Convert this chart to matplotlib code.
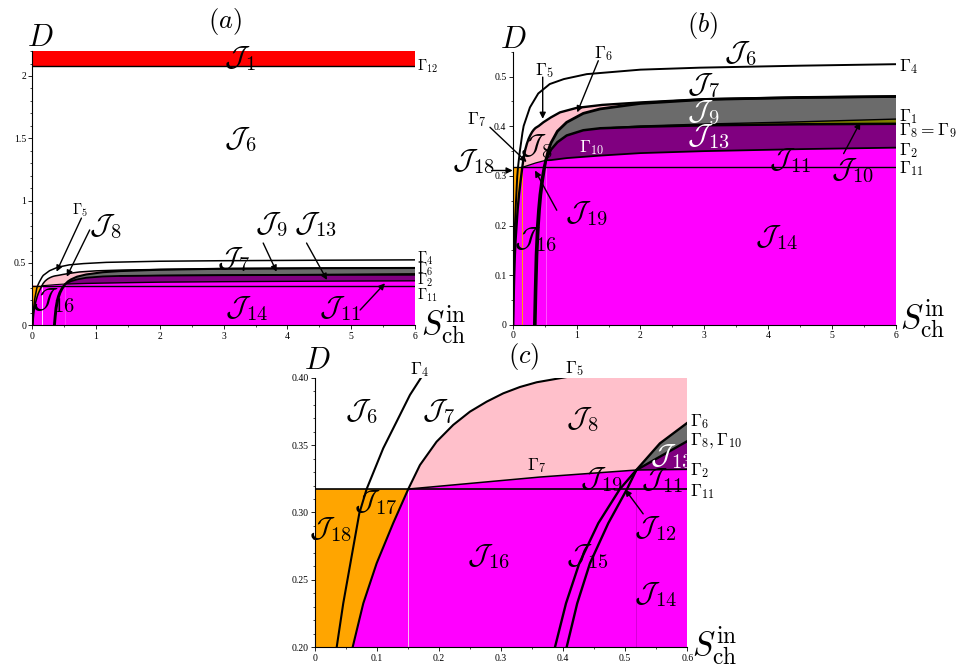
import numpy as np
import matplotlib
matplotlib.use("Agg")
import matplotlib.pyplot as plt
from matplotlib.ticker import MultipleLocator

plt.rcParams['mathtext.fontset'] = 'cm'
plt.rcParams['font.family'] = ['Liberation Serif', 'DejaVu Serif']

# ---------------- data ----------------
# boundary curves in the (S_ch^in, D) plane
S4 = [0.005, 0.01, 0.016, 0.024, 0.035, 0.0456, 0.059, 0.0715, 0.0833, 0.110, 0.1316, 0.1531, 0.172,
      0.27, 0.40, 0.58, 0.80, 1.16, 2.0, 2.93, 4.5, 6.0]
D4 = [0.0, 0.05, 0.10, 0.15, 0.200, 0.2326, 0.2672, 0.2994, 0.3174, 0.3476, 0.3674, 0.3872, 0.4007,
      0.438, 0.466, 0.485, 0.495, 0.505, 0.514, 0.518, 0.522, 0.525]

S5 = [0.008, 0.015, 0.024, 0.034, 0.046, 0.0607, 0.0779, 0.0994, 0.126, 0.1504, 0.1692, 0.196, 0.2229,
      0.2498, 0.2767, 0.3035, 0.3304, 0.3573, 0.4083, 0.48, 0.60, 0.74, 1.0, 1.4, 2.0, 3.0, 4.5, 6.0]
D5 = [0.0, 0.05, 0.10, 0.14, 0.172, 0.2, 0.2326, 0.2623, 0.292, 0.3174, 0.3352, 0.3525, 0.365,
      0.3748, 0.3822, 0.3884, 0.3931, 0.3966, 0.4007, 0.408, 0.418, 0.428, 0.437, 0.443, 0.448, 0.4545, 0.458, 0.46]

S6 = [0.34, 0.352, 0.366, 0.3868, 0.4046, 0.426, 0.4566, 0.4915, 0.518, 0.556, 0.6016, 0.70, 0.845,
      1.105, 1.37, 2.0, 3.0, 4.5, 6.0]
D6 = [0.0, 0.07, 0.14, 0.2, 0.2326, 0.2623, 0.292, 0.3174, 0.3315, 0.3513, 0.367, 0.39, 0.408,
      0.426, 0.435, 0.446, 0.454, 0.458, 0.46]

S8 = [0.355, 0.367, 0.382, 0.4056, 0.4227, 0.4432, 0.4727, 0.503, 0.518, 0.556, 0.6016, 0.70, 0.845,
      1.105, 1.37, 2.0, 3.0, 4.5, 6.0]
D8 = [0.0, 0.07, 0.14, 0.2, 0.2326, 0.2623, 0.292, 0.3174, 0.3315, 0.3414, 0.3533, 0.368, 0.3815,
      0.392, 0.396, 0.399, 0.402, 0.404, 0.405]

S1 = [1.37, 2.0, 3.0, 4.5, 6.0]
D1 = [0.396, 0.4005, 0.4045, 0.409, 0.4145]

S2 = [0.518, 0.6016, 0.85, 1.37, 2.0, 3.0, 4.5, 6.0]
D2 = [0.3315, 0.332, 0.336, 0.341, 0.346, 0.350, 0.354, 0.357]

S7 = [0.1504, 0.3626, 0.518]
D7 = [0.3174, 0.3263, 0.3315]

D11 = 0.3174
D12 = 2.08
D_TOP_A = 2.2
S_MAX = 6.0
S_V1 = 0.1504   # faint vertical boundary
S_V2 = 0.518    # faint vertical boundary

a_xticks = [0, 1, 2, 3, 4, 5, 6]
a_xticklabels = ['0', '1', '2', '3', '4', '5', '6']
a_yticks = [0, 0.5, 1, 1.5, 2]
a_yticklabels = ['0', '0.5', '1', '1.5', '2']
b_xticks = [0, 1, 2, 3, 4, 5, 6]
b_xticklabels = ['0', '1', '2', '3', '4', '5', '6']
b_yticks = [0, 0.1, 0.2, 0.3, 0.4, 0.5]
b_yticklabels = ['0', '0.1', '0.2', '0.3', '0.4', '0.5']
c_xticks = [0, 0.1, 0.2, 0.3, 0.4, 0.5, 0.6]
c_xticklabels = ['0', '0.1', '0.2', '0.3', '0.4', '0.5', '0.6']
c_yticks = [0.20, 0.25, 0.30, 0.35, 0.40]
c_yticklabels = ['0.20', '0.25', '0.30', '0.35', '0.40']

# colours
MAGENTA = '#ff00ff'
ORANGE = '#ffa500'
PINK = '#ffc0cb'
GRAY = '#6b6b6b'
PURPLE = '#800080'
OLIVE = '#808000'
RED = '#ff0000'

A = lambda v: np.asarray(v, dtype=float)
s4, d4, s5, d5, s6, d6, s8, d8 = map(A, (S4, D4, S5, D5, S6, D6, S8, D8))
s1, d1, s2, d2, s7, d7 = map(A, (S1, D1, S2, D2, S7, D7))


def draw_regions(ax, lws, v1color, v2color, ylo):
    # magenta base
    px = np.concatenate([[0, 0, S_V1], s7[1:], s2[1:], [S_MAX]])
    py = np.concatenate([[0, D11, D11], d7[1:], d2[1:], [0]])
    ax.fill(px, py, color=MAGENTA, lw=0, zorder=1)
    # orange
    m = s5 <= S_V1
    px = np.concatenate([[0], s5[m], [0]])
    py = np.concatenate([[0], d5[m], [D11]])
    ax.fill(px, py, color=ORANGE, lw=0, zorder=1)
    # pink
    m = s5 >= S_V1
    px = np.concatenate([s5[m], s2[::-1], s7[::-1]])
    py = np.concatenate([d5[m], d2[::-1], d7[::-1]])
    ax.fill(px, py, color=PINK, lw=0, zorder=1.1)
    # gray
    m6 = s6 >= S_V2
    m8 = s8 >= S_V2
    px = np.concatenate([s6[m6], s8[m8][::-1]])
    py = np.concatenate([d6[m6], d8[m8][::-1]])
    ax.fill(px, py, color=GRAY, lw=0, zorder=1.2)
    # purple
    px = np.concatenate([s8[m8], s2[::-1]])
    py = np.concatenate([d8[m8], d2[::-1]])
    ax.fill(px, py, color=PURPLE, lw=0, zorder=1.2)
    # olive sliver
    m = s8 >= S1[0]
    px = np.concatenate([s1, s8[m][::-1]])
    py = np.concatenate([d1, d8[m][::-1]])
    ax.fill(px, py, color=OLIVE, lw=0, zorder=1.3)
    # faint vertical boundaries
    ax.plot([S_V1, S_V1], [ylo, D11], color=v1color, lw=0.7, zorder=1.4)
    ax.plot([S_V2, S_V2], [ylo, D11], color=v2color, lw=0.6, zorder=1.4)
    # curves
    k = 'black'
    ax.plot([0, S_MAX], [D11, D11], color=k, lw=lws['g11'], zorder=3)
    ax.plot(s7, d7, color=k, lw=lws['g7'], zorder=3)
    ax.plot(s2, d2, color=k, lw=lws['g2'], zorder=3)
    ax.plot(s1, d1, color=k, lw=lws['g1'], zorder=3)
    ax.plot(s4, d4, color=k, lw=lws['g4'], zorder=3)
    ax.plot(s5, d5, color=k, lw=lws['g5'], zorder=3)
    ax.plot(s6, d6, color=k, lw=lws['g6'], zorder=3)
    ax.plot(s8, d8, color=k, lw=lws['g8'], zorder=3)


def style_axes(ax, xlim, ylim, xt, xtl, yt, ytl, xminor, yminor):
    ax.set_xlim(*xlim)
    ax.set_ylim(*ylim)
    for s in ('top', 'right'):
        ax.spines[s].set_visible(False)
    for s in ('left', 'bottom'):
        ax.spines[s].set_linewidth(0.8)
        ax.spines[s].set_zorder(5)
    ax.set_xticks(xt)
    ax.set_xticklabels(xtl)
    ax.set_yticks(yt)
    ax.set_yticklabels(ytl)
    ax.xaxis.set_minor_locator(MultipleLocator(xminor))
    ax.yaxis.set_minor_locator(MultipleLocator(yminor))
    ax.tick_params(which='major', direction='out', length=3, width=0.6, labelsize=7, pad=1.5)
    ax.tick_params(which='minor', direction='out', length=1.5, width=0.5)
    ax.set_facecolor('white')


def arrow(ax, head, tail):
    ax.annotate('', xy=head, xytext=tail, annotation_clip=False,
                arrowprops=dict(arrowstyle='-|>', color='black', lw=1.0,
                                mutation_scale=9, shrinkA=0, shrinkB=0), zorder=6)


JS = 21   # size of region labels
GS = 12.5   # size of curve labels
GSA = 10.5
DS = 22
TS = 19
XL = r'$S_{\rm ch}^{\rm in}$'
XS = 24

fig = plt.figure(figsize=(9.73, 6.68), dpi=100)

# ---------------- panel (a) ----------------
ax = fig.add_axes([0.0332, 0.513, 0.3933, 0.4106])
lw_a = dict(g11=1.0, g7=0.8, g2=1.0, g1=0.8, g4=1.1, g5=1.1, g6=1.5, g8=1.3)
draw_regions(ax, lw_a, '#ffe0ff', '#ff40ff', 0)
ax.fill_between([0, S_MAX], D12, D_TOP_A, color=RED, lw=0, zorder=1)
ax.plot([0, S_MAX], [D12, D12], color='black', lw=1.0, zorder=3)
style_axes(ax, (0, 6), (0, 2.2), a_xticks, a_xticklabels, a_yticks, a_yticklabels, 0.5, 0.1)
ax.text(3.02, 2.437, '$(a)$', fontsize=TS, ha='center', va='center')
ax.text(0.12, 2.30, '$D$', fontsize=DS, ha='center', va='center')
ax.text(6.1, 0.0, XL, fontsize=XS, ha='left', va='center')
ax.text(3.26, 2.14, r'$\mathcal{J}_1$', fontsize=JS, ha='center', va='center')
ax.text(3.26, 1.49, r'$\mathcal{J}_6$', fontsize=JS, ha='center', va='center')
ax.text(6.03, 2.075, r'$\Gamma_{12}$', fontsize=GSA, ha='left', va='center')
ax.text(6.03, 0.535, r'$\Gamma_4$', fontsize=GSA, ha='left', va='center')
ax.text(6.03, 0.452, r'$\Gamma_6$', fontsize=GSA, ha='left', va='center')
ax.text(6.03, 0.36, r'$\Gamma_2$', fontsize=GSA, ha='left', va='center')
ax.text(6.03, 0.243, r'$\Gamma_{11}$', fontsize=GSA, ha='left', va='center')
ax.text(0.75, 0.925, r'$\Gamma_5$', fontsize=GSA, ha='center', va='center')
arrow(ax, (0.38, 0.43), (0.77, 0.86))
ax.text(1.14, 0.79, r'$\mathcal{J}_8$', fontsize=JS, ha='center', va='center')
arrow(ax, (0.54, 0.39), (0.9, 0.765))
ax.text(3.75, 0.805, r'$\mathcal{J}_9$', fontsize=JS, ha='center', va='center')
arrow(ax, (3.83, 0.43), (3.62, 0.66))
ax.text(4.43, 0.805, r'$\mathcal{J}_{13}$', fontsize=JS, ha='center', va='center')
arrow(ax, (4.62, 0.364), (4.30, 0.66))
ax.text(3.15, 0.524, r'$\mathcal{J}_7$', fontsize=JS, ha='center', va='center')
ax.text(3.36, 0.136, r'$\mathcal{J}_{14}$', fontsize=JS, ha='center', va='center')
ax.text(4.82, 0.136, r'$\mathcal{J}_{11}$', fontsize=JS, ha='center', va='center')
arrow(ax, (5.53, 0.337), (5.14, 0.123))
ax.text(0.33, 0.2, r'$\mathcal{J}_{16}$', fontsize=JS, ha='center', va='center')

# ---------------- panel (b) ----------------
ax = fig.add_axes([0.5269, 0.5135, 0.394, 0.409])
lw_b = dict(g11=1.0, g7=0.9, g2=1.3, g1=1.0, g4=1.4, g5=1.7, g6=2.0, g8=1.8)
draw_regions(ax, lw_b, ORANGE, '#ff60ff', 0)
style_axes(ax, (0, 6), (0, 0.55), b_xticks, b_xticklabels, b_yticks, b_yticklabels, 0.5, 0.05)
ax.text(2.98, 0.602, '$(b)$', fontsize=TS, ha='center', va='center')
ax.text(0.01, 0.572, '$D$', fontsize=DS, ha='center', va='center')
ax.text(6.06, 0.012, XL, fontsize=XS, ha='left', va='center')
ax.text(3.56, 0.546, r'$\mathcal{J}_6$', fontsize=JS, ha='center', va='center')
ax.text(2.98, 0.482, r'$\mathcal{J}_7$', fontsize=JS, ha='center', va='center')
ax.text(2.98, 0.428, r'$\mathcal{J}_9$', fontsize=JS, ha='center', va='center', color='white')
ax.text(3.06, 0.378, r'$\mathcal{J}_{13}$', fontsize=JS, ha='center', va='center', color='white')
ax.text(1.24, 0.358, r'$\Gamma_{10}$', fontsize=GS, ha='center', va='center', color='white')
ax.text(4.34, 0.331, r'$\mathcal{J}_{11}$', fontsize=JS, ha='center', va='center')
ax.text(5.31, 0.311, r'$\mathcal{J}_{10}$', fontsize=JS, ha='center', va='center')
arrow(ax, (5.44, 0.408), (5.18, 0.345))
ax.text(4.13, 0.177, r'$\mathcal{J}_{14}$', fontsize=JS, ha='center', va='center')
ax.text(1.16, 0.224, r'$\mathcal{J}_{19}$', fontsize=JS, ha='center', va='center')
arrow(ax, (0.35, 0.311), (0.69, 0.231))
ax.text(0.35, 0.171, r'$\mathcal{J}_{16}$', fontsize=JS, ha='center', va='center')
ax.text(0.375, 0.358, r'$\mathcal{J}_8$', fontsize=JS, ha='center', va='center')
ax.text(0.506, 0.512, r'$\Gamma_5$', fontsize=GS, ha='center', va='center')
arrow(ax, (0.47, 0.415), (0.47, 0.499))
ax.text(1.42, 0.546, r'$\Gamma_6$', fontsize=GS, ha='center', va='center')
arrow(ax, (1.01, 0.428), (1.34, 0.532))
ax.text(-0.56, 0.413, r'$\Gamma_7$', fontsize=GS, ha='center', va='center')
arrow(ax, (0.219, 0.328), (-0.355, 0.398))
ax.text(-0.62, 0.328, r'$\mathcal{J}_{18}$', fontsize=JS, ha='center', va='center')
arrow(ax, (0.0, 0.311), (-0.33, 0.311))
ax.text(6.05, 0.521, r'$\Gamma_4$', fontsize=GS, ha='left', va='center')
ax.text(6.05, 0.42, r'$\Gamma_1$', fontsize=GS, ha='left', va='center')
ax.text(6.05, 0.391, r'$\Gamma_8=\Gamma_9$', fontsize=GS, ha='left', va='center')
ax.text(6.05, 0.351, r'$\Gamma_2$', fontsize=GS, ha='left', va='center')
ax.text(6.05, 0.315, r'$\Gamma_{11}$', fontsize=GS, ha='left', va='center')

# ---------------- panel (c) ----------------
ax = fig.add_axes([0.3237, 0.031, 0.3826, 0.4036])
lw_c = dict(g11=1.2, g7=1.1, g2=1.1, g1=1.0, g4=1.5, g5=1.5, g6=1.7, g8=1.7)
draw_regions(ax, lw_c, '#ffc0f0', '#d000d0', 0)
style_axes(ax, (0, 0.6), (0.2, 0.4), c_xticks, c_xticklabels, c_yticks, c_yticklabels, 0.05, 0.01)
ax.text(0.336, 0.4156, '$(c)$', fontsize=TS, ha='center', va='center')
ax.text(0.003, 0.412, '$D$', fontsize=DS, ha='center', va='center')
ax.text(0.607, 0.201, XL, fontsize=XS, ha='left', va='center')
ax.text(0.153, 0.4057, r'$\Gamma_4$', fontsize=GS, ha='left', va='center')
ax.text(0.403, 0.407, r'$\Gamma_5$', fontsize=GS, ha='left', va='center')
ax.text(0.357, 0.335, r'$\Gamma_7$', fontsize=GS, ha='center', va='center')
ax.text(0.075, 0.375, r'$\mathcal{J}_6$', fontsize=JS, ha='center', va='center')
ax.text(0.199, 0.375, r'$\mathcal{J}_7$', fontsize=JS, ha='center', va='center')
ax.text(0.43, 0.369, r'$\mathcal{J}_8$', fontsize=JS, ha='center', va='center')
ax.text(0.575, 0.341, r'$\mathcal{J}_{13}$', fontsize=JS, ha='center', va='center', color='white')
ax.text(0.462, 0.324, r'$\mathcal{J}_{19}$', fontsize=JS, ha='center', va='center')
ax.text(0.559, 0.324, r'$\mathcal{J}_{11}$', fontsize=JS, ha='center', va='center')
ax.text(0.097, 0.307, r'$\mathcal{J}_{17}$', fontsize=JS, ha='center', va='center')
ax.text(0.024, 0.287, r'$\mathcal{J}_{18}$', fontsize=JS, ha='center', va='center')
ax.text(0.279, 0.267, r'$\mathcal{J}_{16}$', fontsize=JS, ha='center', va='center')
ax.text(0.438, 0.267, r'$\mathcal{J}_{15}$', fontsize=JS, ha='center', va='center')
ax.text(0.548, 0.288, r'$\mathcal{J}_{12}$', fontsize=JS, ha='center', va='center')
arrow(ax, (0.50, 0.317), (0.529, 0.299))
ax.text(0.548, 0.239, r'$\mathcal{J}_{14}$', fontsize=JS, ha='center', va='center')
ax.text(0.604, 0.3674, r'$\Gamma_6$', fontsize=GS, ha='left', va='center')
ax.text(0.604, 0.3525, r'$\Gamma_8,\Gamma_{10}$', fontsize=GS, ha='left', va='center')
ax.text(0.604, 0.3315, r'$\Gamma_2$', fontsize=GS, ha='left', va='center')
ax.text(0.604, 0.3154, r'$\Gamma_{11}$', fontsize=GS, ha='left', va='center')

fig.savefig('out.png', dpi=100)
